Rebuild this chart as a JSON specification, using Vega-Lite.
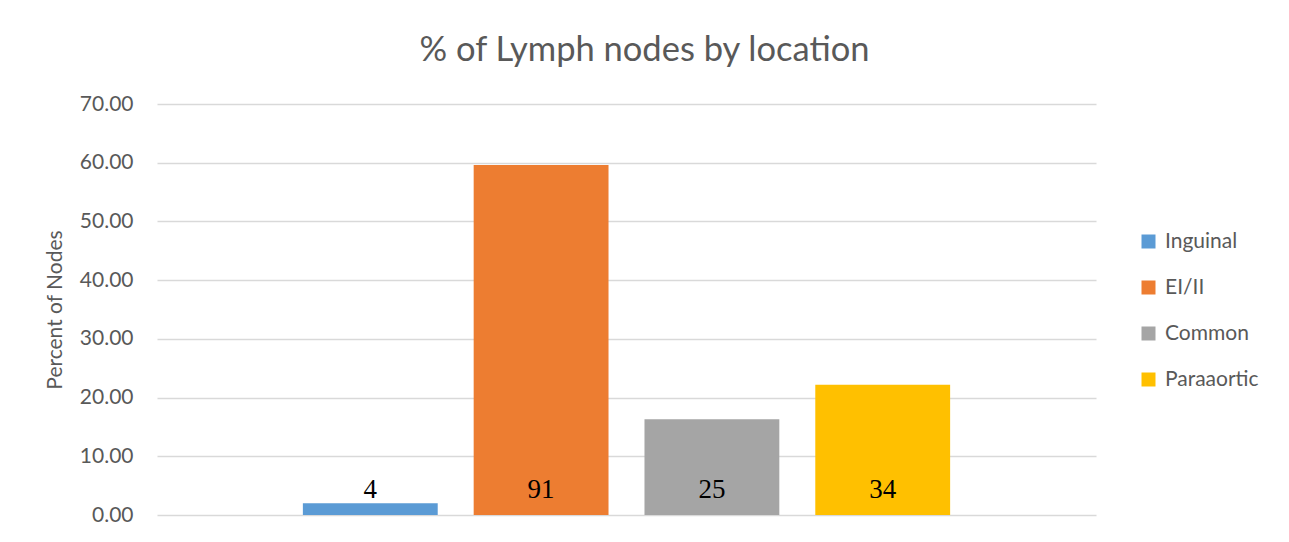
{
  "$schema": "https://vega.github.io/schema/vega-lite/v6.json",
  "autosize": {"type": "none"},
  "width": 939,
  "height": 411,
  "padding": {"left": 157, "top": 104, "right": 193, "bottom": 27},
  "background": "white",
  "title": {
    "text": "% of Lymph nodes by location",
    "font": "Lato",
    "fontSize": 34.5,
    "fontWeight": "normal",
    "color": "#595959",
    "anchor": "middle",
    "dx": 18,
    "offset": 25
  },
  "data": {
    "values": [
      {"location": "Inguinal", "percent": 2.0, "nodes": 4},
      {"location": "EI/II", "percent": 59.6, "nodes": 91},
      {"location": "Common", "percent": 16.3, "nodes": 25},
      {"location": "Paraaortic", "percent": 22.2, "nodes": 34}
    ]
  },
  "encoding": {
    "x": {
      "field": "location",
      "type": "nominal",
      "sort": ["Inguinal", "EI/II", "Common", "Paraaortic"],
      "scale": {"paddingInner": 0.2105, "paddingOuter": 0.854},
      "axis": null
    }
  },
  "layer": [
    {
      "mark": {"type": "bar"},
      "encoding": {
        "y": {
          "field": "percent",
          "type": "quantitative",
          "scale": {"domain": [0, 70], "nice": false},
          "axis": {
            "values": [0, 10, 20, 30, 40, 50, 60, 70],
            "format": ".2f",
            "title": "Percent of Nodes",
            "titleFont": "Lato",
            "titleFontSize": 21,
            "titleFontWeight": "normal",
            "titleColor": "#595959",
            "titlePadding": 14,
            "labelFont": "Lato",
            "labelFontSize": 21,
            "labelColor": "#595959",
            "labelPadding": 24,
            "ticks": false,
            "domain": false,
            "grid": true,
            "gridColor": "#d9d9d9",
            "gridWidth": 1.3
          }
        },
        "color": {
          "field": "location",
          "type": "nominal",
          "sort": ["Inguinal", "EI/II", "Common", "Paraaortic"],
          "scale": {
            "domain": ["Inguinal", "EI/II", "Common", "Paraaortic"],
            "range": ["#5B9BD5", "#ED7D31", "#A5A5A5", "#FFC000"]
          },
          "legend": {
            "title": null,
            "orient": "none",
            "legendX": 981,
            "legendY": 127,
            "padding": 0,
            "symbolType": "square",
            "symbolSize": 196,
            "symbolStrokeWidth": 0,
            "labelFont": "Lato",
            "labelFontSize": 21,
            "labelColor": "#595959",
            "labelOffset": 6,
            "rowPadding": 24
          }
        }
      }
    },
    {
      "mark": {
        "type": "text",
        "font": "Liberation Serif",
        "fontSize": 27,
        "color": "black",
        "baseline": "alphabetic",
        "align": "center",
        "dy": -17
      },
      "encoding": {
        "y": {"datum": 0},
        "text": {"field": "nodes", "type": "quantitative"}
      }
    }
  ],
  "config": {
    "view": {"stroke": null}
  }
}
